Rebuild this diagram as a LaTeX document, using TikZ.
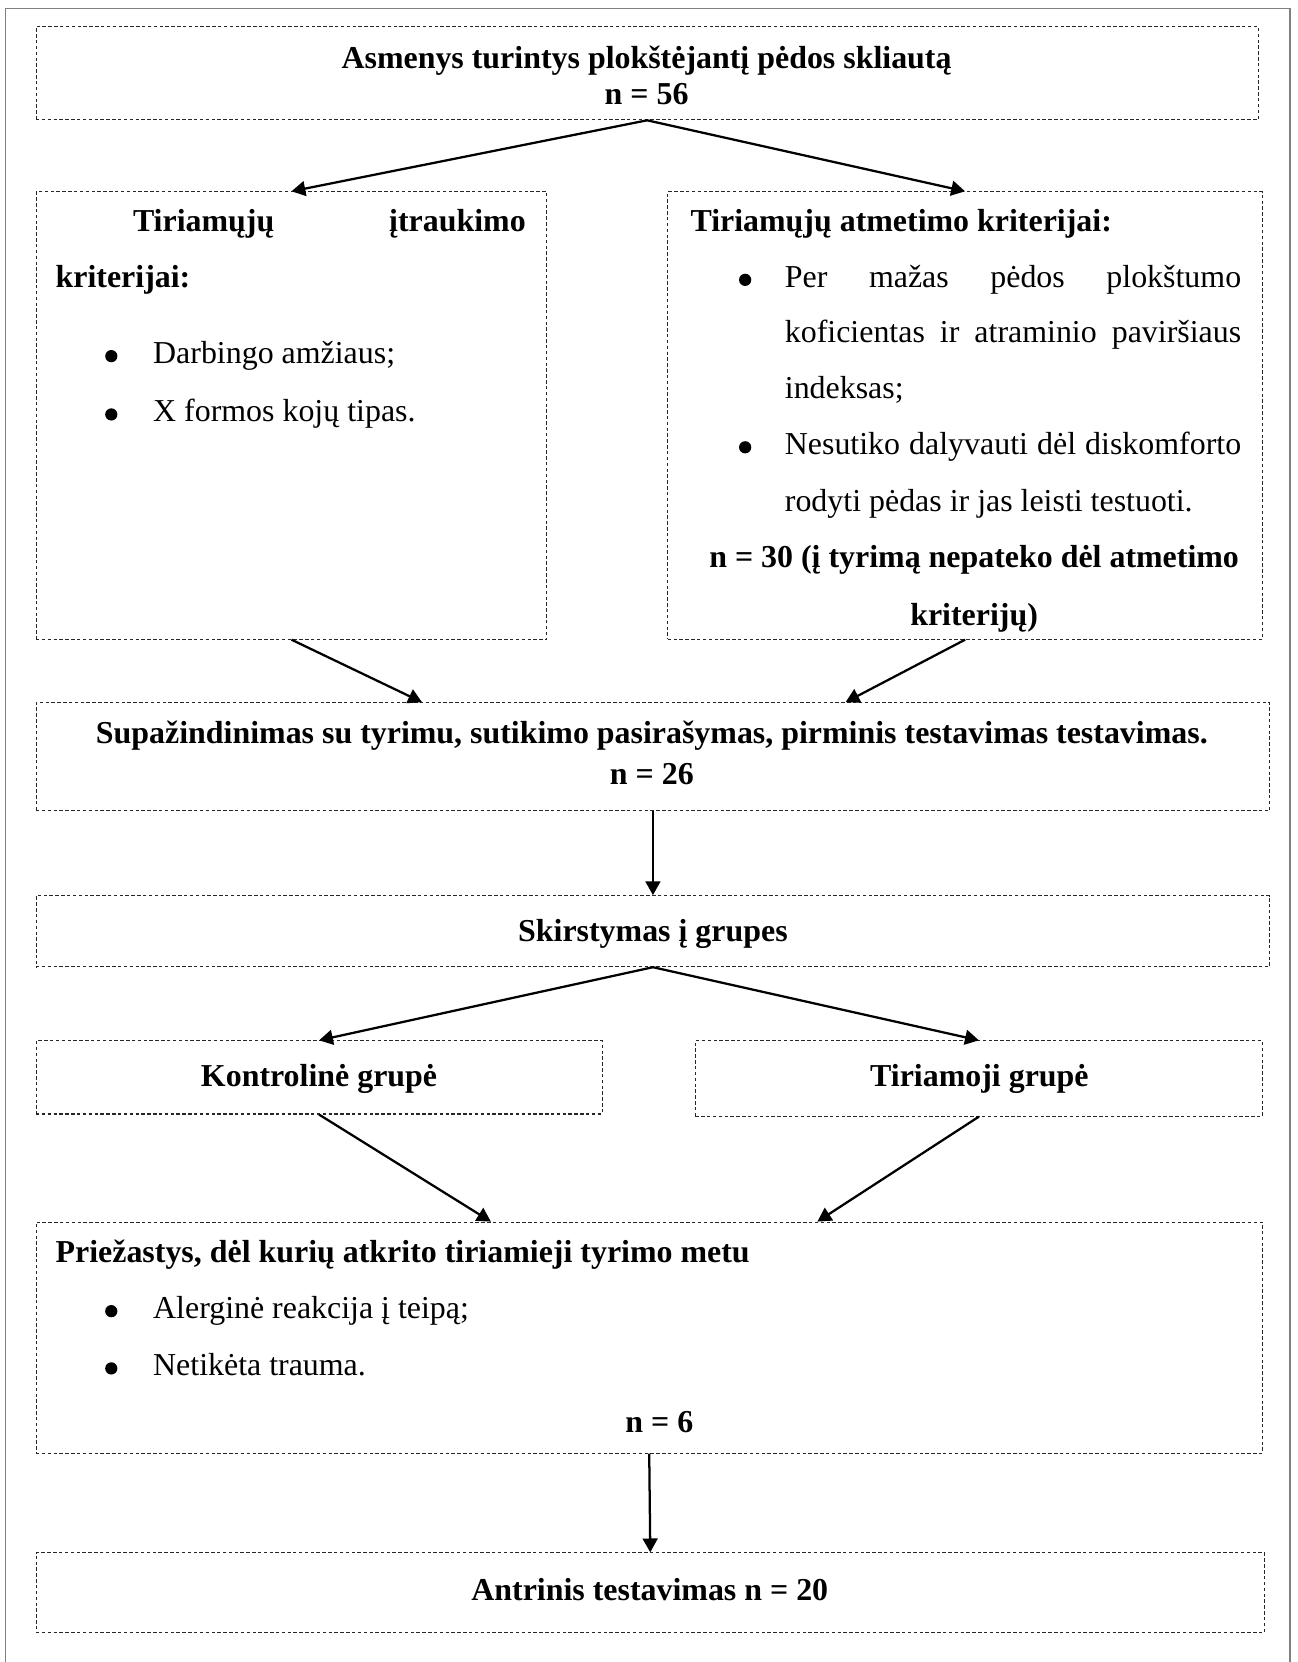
\documentclass[tikz,border=0pt]{standalone}
\usepackage{fontspec}
\setmainfont{Liberation Serif}
\usetikzlibrary{arrows.meta,fit,calc}
\begin{document}
\begin{tikzpicture}[x=0.014cm,y=-0.014cm,
        every node/.style={font=\fontsize{12}{14}\selectfont, inner sep=0pt},
        hd/.style={font=\fontsize{12}{14}\selectfont\bfseries},
        box/.style={draw=black!85, dash pattern=on 1.3pt off .9pt, line width=.4pt},
        arr/.style={-{Triangle[length=5.2pt,width=5.6pt]}, line width=.85pt},
        bulletdot/.style={circle, fill, minimum size=4.6pt}]
    \useasboundingbox (0,0) rectangle (1224,1568);
    \draw[gray, line width=.6pt] (5,1568)--(5,8)--(1217,8)--(1217,1568);
    % boxes
    \node[box, fit={(34,25) (1187,113)}] (top) {};
    \node[box, fit={(34,181) (516,603)}] (incl) {};
    \node[box, fit={(630,181) (1191,603)}] (excl) {};
    \node[box, fit={(34,663) (1198,765)}] (sup) {};
    \node[box, fit={(34,845) (1198,912)}] (grp) {};
    \node[box, fit={(34,982) (568,1051)}] (ctrl) {};
    \node[box, fit={(656,982) (1191,1053)}] (exp) {};
    \node[box, fit={(34,1153) (1191,1371)}] (drop) {};
    \node[box, fit={(34,1465) (1193,1540)}] (fin) {};
    % top
    \node[hd, anchor=base] (topa) at (610,65) {Asmenys turintys plokštėjantį pėdos skliautą};
    \node[hd, anchor=base] (topb) at (610,99) {n = 56};
    % inclusion
    \node[hd, anchor=base west] (incla) at (125,218) {\makebox[5.19cm][s]{Tiriamųjų įtraukimo}};
    \node[hd, anchor=base west] (inclb) at (52,271) {kriterijai:};
    \node[anchor=base west] (inclc) at (144,343) {Darbingo amžiaus;};
    \node[anchor=base west] (incld) at (144,398) {X formos kojų tipas.};
    \node[bulletdot] (bi1) at (105,336) {};
    \node[bulletdot] (bi2) at (105,391) {};
    % exclusion
    \node[hd, anchor=base west] (excla) at (651,218) {Tiriamųjų atmetimo kriterijai:};
    \node[anchor=base west] (exclb) at (740,271) {\makebox[6.03cm][s]{Per mažas pėdos plokštumo}};
    \node[anchor=base west] (exclc) at (740,323) {\makebox[6.03cm][s]{koficientas ir atraminio paviršiaus}};
    \node[anchor=base west] (excld) at (740,376) {indeksas;};
    \node[anchor=base west] (excle) at (740,429) {\makebox[6.03cm][s]{Nesutiko dalyvauti dėl diskomforto}};
    \node[anchor=base west] (exclf) at (740,483) {rodyti pėdas ir jas leisti testuoti.};
    \node[hd, anchor=base] (exclg) at (919,535) {n = 30 (į tyrimą nepateko dėl atmetimo};
    \node[hd, anchor=base] (exclh) at (919,590) {kriterijų)};
    \node[bulletdot] (be1) at (703,264) {};
    \node[bulletdot] (be2) at (703,422) {};
    % middle
    \node[hd, anchor=base] (supa) at (615,701) {Supažindinimas su tyrimu, sutikimo pasirašymas, pirminis testavimas testavimas.};
    \node[hd, anchor=base] (supb) at (615,740) {n = 26};
    \node[hd, anchor=base] (grpa) at (616,888) {Skirstymas į grupes};
    \node[hd, anchor=base] (ctrla) at (301,1025) {Kontrolinė grupė};
    \node[hd, anchor=base] (expa) at (924,1025) {Tiriamoji grupė};
    % dropouts
    \node[hd, anchor=base west] (dropa) at (52,1191) {Priežastys, dėl kurių atkrito tiriamieji tyrimo metu};
    \node[anchor=base west] (dropb) at (144,1244) {Alerginė reakcija į teipą;};
    \node[anchor=base west] (dropc) at (144,1298) {Netikėta trauma.};
    \node[hd, anchor=base] (dropd) at (622,1351) {n = 6};
    \node[bulletdot] (bd1) at (105,1237) {};
    \node[bulletdot] (bd2) at (105,1291) {};
    \node[hd, anchor=base] (fina) at (613,1510) {Antrinis testavimas n = 20};
    % arrows
    \draw[arr] (top.south)--(incl.north);
    \draw[arr] (top.south)--(excl.north);
    \draw[arr] (incl.south)--($(sup.north west)!.313!(sup.north east)$);
    \draw[arr] (excl.south)--($(sup.north west)!.656!(sup.north east)$);
    \draw[arr] (sup.south)--(grp.north);
    \draw[arr] (grp.south)--(ctrl.north);
    \draw[arr] (grp.south)--(exp.north);
    \draw[arr] (ctrl.south)--($(drop.north west)!.371!(drop.north east)$);
    \draw[arr] (exp.south)--($(drop.north west)!.637!(drop.north east)$);
    \draw[arr] (drop.south)--(fin.north);
\end{tikzpicture}
\end{document}
